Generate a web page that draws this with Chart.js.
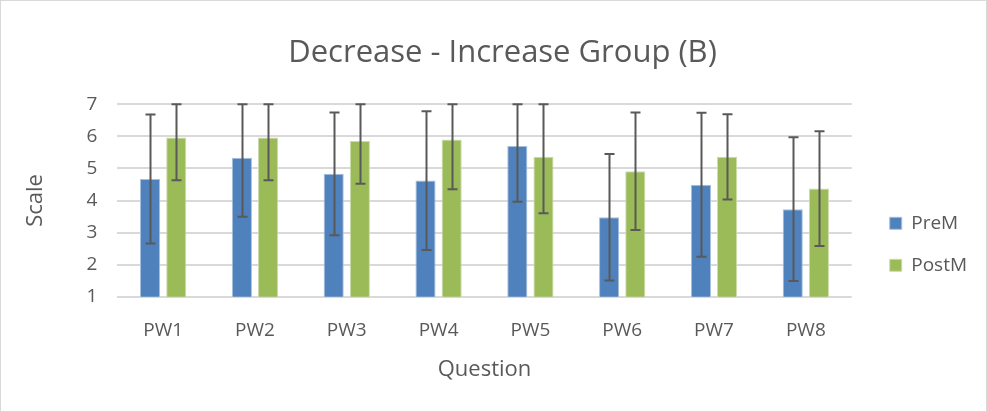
<!DOCTYPE html>
<html>
<head>
<meta charset="utf-8">
<script src="https://cdn.jsdelivr.net/npm/chart.js@4/dist/chart.umd.min.js"></script>
<style>
  body { margin: 0; background: #fff; }
  #wrap { width: 987px; height: 412px; box-sizing: border-box; border: 1px solid #d9d9d9; }
</style>
</head>
<body>
<div id="wrap"><canvas id="grafico" width="985" height="410"></canvas></div>
<script>
// dados
const questoes = ['PW1', 'PW2', 'PW3', 'PW4', 'PW5', 'PW6', 'PW7', 'PW8'];
const preM = [4.67, 5.33, 4.83, 4.62, 5.70, 3.48, 4.49, 3.73];
const postM = [5.96, 5.96, 5.85, 5.90, 5.36, 4.91, 5.36, 4.37];
const preErr = [2.01, 1.84, 1.91, 2.16, 1.74, 1.97, 2.24, 2.24];
const postErr = [1.33, 1.33, 1.33, 1.55, 1.76, 1.83, 1.33, 1.79];
const escala = [1, 2, 3, 4, 5, 6, 7];

const fonte = "'Open Sans', 'Liberation Sans', sans-serif";
const cinza = '#595959';

// barras de erro (desenhadas pela escala y)
const barrasErro = {
    id: 'barrasErro',
    afterDatasetsDraw(chart) {
        const ctx = chart.ctx;
        const y = chart.scales.y;
        const erros = [preErr, postErr];
        ctx.save();
        ctx.strokeStyle = cinza;
        ctx.lineWidth = 2;
        chart.data.datasets.forEach((ds, i) => {
            chart.getDatasetMeta(i).data.forEach((bar, j) => {
                const v = ds.data[j];
                const e = erros[i][j];
                const topo = y.getPixelForValue(Math.min(y.max, v + e));
                const base = y.getPixelForValue(Math.max(y.min, v - e));
                const x = Math.round(bar.x) + 0.5;
                ctx.beginPath();
                ctx.moveTo(x, topo); ctx.lineTo(x, base);
                ctx.moveTo(x - 5, topo); ctx.lineTo(x + 5, topo);
                ctx.moveTo(x - 5, base); ctx.lineTo(x + 5, base);
                ctx.stroke();
            });
        });
        ctx.restore();
    }
};

// empurra legenda e título um pouco, como no original
const ajusteLayout = {
    id: 'ajusteLayout',
    afterLayout(chart) {
        const lg = chart.legend;
        lg.left += 15; lg.right += 15;
        lg.top += 1; lg.bottom += 1;
        const tt = chart.titleBlock;
        tt.left += 12; tt.right += 12;
    }
};

const ctx = document.getElementById('grafico').getContext('2d');
const grafico = new Chart(ctx, {
    type: 'bar',
    data: {
        labels: questoes,
        datasets: [{
            label: 'PreM',
            data: preM,
            backgroundColor: '#4f81bd',
            borderColor: '#a7c0de',
            borderWidth: 1
        }, {
            label: 'PostM',
            data: postM,
            backgroundColor: '#9bbb59',
            borderColor: '#cddcae',
            borderWidth: 1
        }]
    },
    plugins: [barrasErro, ajusteLayout],
    options: {
        responsive: false,
        animation: false,
        categoryPercentage: 0.57,
        barPercentage: 0.77,
        layout: { padding: { left: 18, right: 24, top: 34, bottom: 24 } },
        plugins: {
            title: {
                display: true,
                text: 'Decrease - Increase Group (B)',
                color: cinza,
                font: { family: fonte, size: 31, weight: 'normal' },
                padding: { top: 0, bottom: 32 }
            },
            legend: {
                position: 'right',
                fullSize: false,
                align: 'end',
                labels: {
                    color: cinza,
                    font: { family: fonte, size: 19 },
                    boxWidth: 12,
                    boxHeight: 12,
                    padding: 23
                }
            },
            tooltip: { enabled: false }
        },
        scales: {
            x: {
                grid: { display: false },
                border: { display: false },
                ticks: { color: cinza, font: { family: fonte, size: 19 }, padding: 14 },
                title: {
                    display: true,
                    text: 'Question',
                    color: cinza,
                    font: { family: fonte, size: 22 },
                    padding: { top: 1 }
                }
            },
            y: {
                min: 1,
                max: 7,
                afterBuildTicks: (axis) => { axis.ticks = escala.map(v => ({ value: v })); },
                grid: { color: '#d9d9d9', lineWidth: 2, drawTicks: false },
                border: { display: false },
                ticks: { color: cinza, font: { family: fonte, size: 19 }, padding: 20 },
                title: {
                    display: true,
                    text: 'Scale',
                    color: cinza,
                    font: { family: fonte, size: 22 },
                    padding: { bottom: 17 }
                }
            }
        }
    }
});
</script>
</body>
</html>
